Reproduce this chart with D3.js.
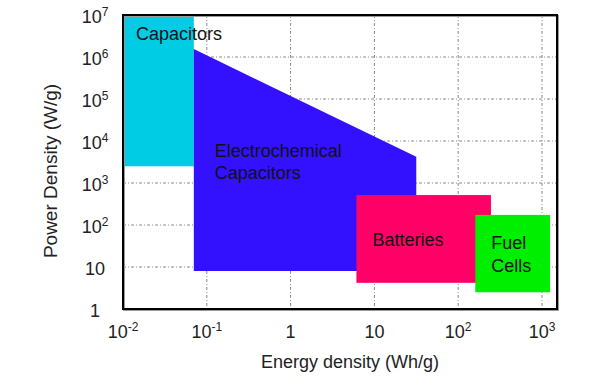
<!DOCTYPE html>
<html>
<head>
<meta charset="utf-8">
<script src="https://cdn.jsdelivr.net/npm/d3@7"></script>
<style>
  body { margin: 0; background: #fff; }
  svg { display: block; font-family: "Liberation Sans", Arial, sans-serif; }
</style>
</head>
<body>
<svg id="chart" width="613" height="391"></svg>
<script>
// ---- data ----
const xTickExps = [-2, -1, 0, 1, 2, 3];
const yTickExps = [0, 1, 2, 3, 4, 5, 6, 7];
const xDomain = [0.01, 1510];
const yDomain = [1, 1e7];

const capEnergy = [0.01, 0.07];
const capPower = [2500, 1e7];

const ecEnergy = [0.07, 31.6, 31.6, 0.07];
const ecPower = [1.55e6, 4200, 8, 8];

const batEnergy = [6.1, 246];
const batPower = [4.2, 516];

const fcEnergy = [160, 1245];
const fcPower = [2.5, 174];

const xTitle = "Energy density (Wh/g)";
const yTitle = "Power Density (W/g)";

// ---- layout ----
const svg = d3.select("#chart");
const L = 123, R = 557, T = 15, B = 309;
const x = d3.scaleLog().domain(xDomain).range([L, R]);
const y = d3.scaleLog().domain(yDomain).range([B, T]);

// gridlines
const grid = svg.append("g").attr("stroke", "#8a8a8a").attr("stroke-width", 1)
  .attr("stroke-dasharray", "3,2,1,2");
xTickExps.filter(e => e > -2).forEach(e => {
  grid.append("line").attr("x1", x(Math.pow(10, e))).attr("x2", x(Math.pow(10, e)))
    .attr("y1", T).attr("y2", B);
});
yTickExps.filter(e => e > 0 && e < 7).forEach(e => {
  grid.append("line").attr("y1", y(Math.pow(10, e))).attr("y2", y(Math.pow(10, e)))
    .attr("x1", L).attr("x2", R);
});

// regions
function rect(en, pw, color) {
  svg.append("rect")
    .attr("x", x(en[0])).attr("y", y(pw[1]))
    .attr("width", x(en[1]) - x(en[0]))
    .attr("height", y(pw[0]) - y(pw[1]))
    .attr("fill", color);
}
rect(capEnergy, capPower, "#00CCE4");
svg.append("path")
  .attr("d", d3.line()(ecEnergy.map((e, i) => [x(e), y(ecPower[i])])) + "Z")
  .attr("fill", "#3311FF");
rect(batEnergy, batPower, "#FF0066");
rect(fcEnergy, fcPower, "#00EE00");

// region labels
const lab = svg.append("g").attr("font-size", 18).attr("fill", "#111");
lab.append("text").attr("x", x(capEnergy[0]) + 13).attr("y", y(capPower[1]) + 25).text("Capacitors");
lab.append("text").attr("x", x(ecEnergy[0]) + 21).attr("y", y(ecPower[0]) + 108).text("Electrochemical");
lab.append("text").attr("x", x(ecEnergy[0]) + 21).attr("y", y(ecPower[0]) + 130).text("Capacitors");
lab.append("text").attr("x", x(batEnergy[0]) + 16).attr("y", y(batPower[1]) + 51).text("Batteries");
lab.append("text").attr("x", x(fcEnergy[0]) + 16).attr("y", y(fcPower[1]) + 34).text("Fuel");
lab.append("text").attr("x", x(fcEnergy[0]) + 16).attr("y", y(fcPower[1]) + 57).text("Cells");

// frame
svg.append("rect").attr("x", L + 1).attr("y", T + 1).attr("width", R - L).attr("height", B - T)
  .attr("fill", "none").attr("stroke", "#999").attr("stroke-width", 2);
svg.append("rect").attr("x", L).attr("y", T).attr("width", R - L).attr("height", B - T)
  .attr("fill", "none").attr("stroke", "#000").attr("stroke-width", 2);

// tick labels
function tickLabel(g, e) {
  if (e === 0) { g.append("tspan").text("1"); return; }
  if (e === 1) { g.append("tspan").text("10"); return; }
  g.append("tspan").text("10");
  g.append("tspan").attr("font-size", 12).attr("dy", -7).text(String(e).replace("-", "-"));
}
xTickExps.forEach(e => {
  const t = svg.append("text").attr("x", x(Math.pow(10, e))).attr("y", 338)
    .attr("text-anchor", "middle").attr("font-size", 18).attr("fill", "#222");
  tickLabel(t, e);
});
yTickExps.forEach(e => {
  const t = svg.append("text").attr("x", 95).attr("y", y(Math.pow(10, e)) + 8)
    .attr("text-anchor", "middle").attr("font-size", 18).attr("fill", "#222");
  tickLabel(t, e);
});

// axis titles
svg.append("text").attr("x", 350).attr("y", 368).attr("text-anchor", "middle")
  .attr("font-size", 18).attr("fill", "#222").text(xTitle);
svg.append("text").attr("transform", "translate(57,171) rotate(-90)").attr("text-anchor", "middle")
  .attr("font-size", 19).attr("fill", "#222").text(yTitle);
</script>
</body>
</html>
